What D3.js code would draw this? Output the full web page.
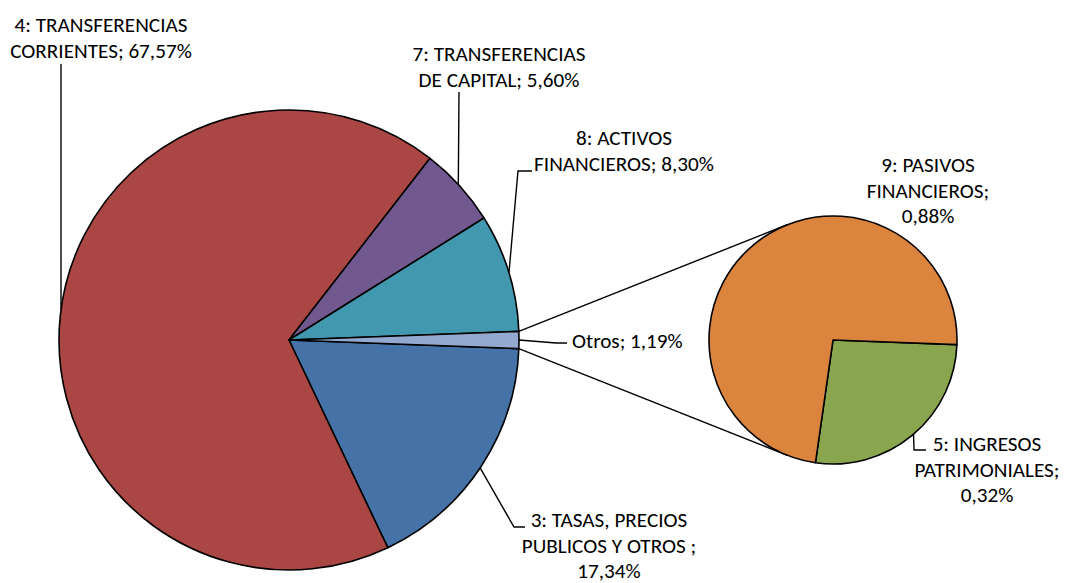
<!DOCTYPE html>
<html>
<head>
<meta charset="utf-8">
<script src="https://cdn.jsdelivr.net/npm/d3@7"></script>
<style>
  html, body { margin: 0; padding: 0; background: #fff; }
  svg { display: block; }
  text { font-family: Carlito, Lato, "Open Sans", sans-serif; fill: #000; }
</style>
</head>
<body>
<svg id="chart" width="1067" height="583"></svg>
<script>
// ---- data ----
const mainCategories = ["3: TASAS, PRECIOS PUBLICOS Y OTROS ", "4: TRANSFERENCIAS CORRIENTES", "7: TRANSFERENCIAS DE CAPITAL", "8: ACTIVOS FINANCIEROS", "Otros"];
const mainValues = [17.34, 67.57, 5.60, 8.30, 1.19];
const subCategories = ["5: INGRESOS PATRIMONIALES", "9: PASIVOS FINANCIEROS"];
const subValues = [0.32, 0.88];
const mainLabelLines = [
  ["3: TASAS, PRECIOS", "PUBLICOS Y OTROS ;", "17,34%"],
  ["4: TRANSFERENCIAS", "CORRIENTES; 67,57%"],
  ["7: TRANSFERENCIAS", "DE CAPITAL; 5,60%"],
  ["8: ACTIVOS", "FINANCIEROS; 8,30%"],
  ["Otros; 1,19%"]
];
const subLabelLines = [
  ["5: INGRESOS", "PATRIMONIALES;", "0,32%"],
  ["9: PASIVOS", "FINANCIEROS;", "0,88%"]
];

// ---- style / layout ----
const mainColors = ["#4572A7", "#AA4643", "#71588F", "#4198AF", "#93A9CF"];
const subColors = ["#89A54E", "#DB843D"];
const main = { cx: 289, cy: 340, r: 230 };
const sub = { cx: 833, cy: 340, r: 124 };
const startDeg = 90 + mainValues[4] / d3.sum(mainValues) * 360 / 2;
const lineH = 25.5;

// label layouts: anchor x, first baseline y, text-anchor, leader points (label side) and arc angle (deg)
const mainLabelLayout = [
  { x: 609, y: 527, anchor: "middle", leader: [[525, 527], [514, 527]], arcDeg: 123.8 },
  { x: 101, y: 32, anchor: "middle", leader: [[61, 64]], arcDeg: 277.6 },
  { x: 499, y: 61, anchor: "middle", leader: [[459, 92]], arcDeg: 47.4 },
  { x: 624, y: 145, anchor: "middle", leader: [[532, 171], [518, 171]], arcDeg: 73 },
  { x: 572, y: 348, anchor: "start", leader: [[567, 343], [556, 343]], arcDeg: 90 }
];
const subLabelLayout = [
  { x: 987, y: 451, anchor: "middle", leader: [[926, 450], [914, 450]], arcDeg: 139.5 },
  { x: 928, y: 172, anchor: "middle", leader: null }
];

const svg = d3.select("#chart");

// font fit: Calibri-like width
const probe = svg.append("text").attr("font-size", 100).text("7: TRANSFERENCIAS");
const w100 = probe.node().getComputedTextLength();
probe.remove();
const fontSize = Math.min(22, Math.max(14, 100 * 173 / w100));

const pie = d3.pie().sort(null)
  .startAngle(startDeg * Math.PI / 180)
  .endAngle(startDeg * Math.PI / 180 + 2 * Math.PI);

const mainArcs = pie(mainValues);
const subArcs = pie(subValues);

const arcMain = d3.arc().innerRadius(0).outerRadius(main.r);
const arcSub = d3.arc().innerRadius(0).outerRadius(sub.r);

// connector lines (tangents from Otros edges to secondary pie)
const otros = mainArcs[4];
function polar(c, r, a) { return [c.cx + r * Math.sin(a), c.cy - r * Math.cos(a)]; }
const pTop = polar(main, main.r, otros.startAngle);
const pBot = polar(main, main.r, otros.endAngle);
function tangent(p, upper) {
  const dx = sub.cx - p[0], dy = sub.cy - p[1];
  const d = Math.hypot(dx, dy);
  const base = Math.atan2(dy, dx);
  const off = Math.asin(sub.r / d);
  const ang = upper ? base - off : base + off;
  const L = Math.sqrt(d * d - sub.r * sub.r);
  return [p[0] + L * Math.cos(ang), p[1] + L * Math.sin(ang)];
}
const conn = svg.append("g").attr("stroke", "#000").attr("stroke-width", 1.4).attr("fill", "none");
conn.append("line").attr("x1", pTop[0]).attr("y1", pTop[1]).attr("x2", tangent(pTop, true)[0]).attr("y2", tangent(pTop, true)[1]);
conn.append("line").attr("x1", pBot[0]).attr("y1", pBot[1]).attr("x2", tangent(pBot, false)[0]).attr("y2", tangent(pBot, false)[1]);

svg.append("g").attr("transform", `translate(${main.cx},${main.cy})`)
  .selectAll("path").data(mainArcs).join("path")
  .attr("d", arcMain)
  .attr("fill", (d, i) => mainColors[i])
  .attr("stroke", "#000").attr("stroke-width", 1.6).attr("stroke-linejoin", "round");

svg.append("g").attr("transform", `translate(${sub.cx},${sub.cy})`)
  .selectAll("path").data(subArcs).join("path")
  .attr("d", arcSub)
  .attr("fill", (d, i) => subColors[i])
  .attr("stroke", "#000").attr("stroke-width", 1.6).attr("stroke-linejoin", "round");

function drawLabels(layouts, lines, c) {
  layouts.forEach((L, i) => {
    if (L.leader) {
      const pts = L.leader.slice();
      pts.push(polar(c, c.r, L.arcDeg * Math.PI / 180));
      svg.append("path").attr("d", d3.line()(pts))
        .attr("fill", "none").attr("stroke", "#000").attr("stroke-width", 1.4);
    }
    const t = svg.append("text").attr("text-anchor", L.anchor).attr("font-size", fontSize);
    lines[i].forEach((s, k) => {
      t.append("tspan").attr("x", L.x).attr("y", L.y + k * lineH).text(s);
    });
  });
}
drawLabels(mainLabelLayout, mainLabelLines, main);
drawLabels(subLabelLayout, subLabelLines, sub);
</script>
</body>
</html>
